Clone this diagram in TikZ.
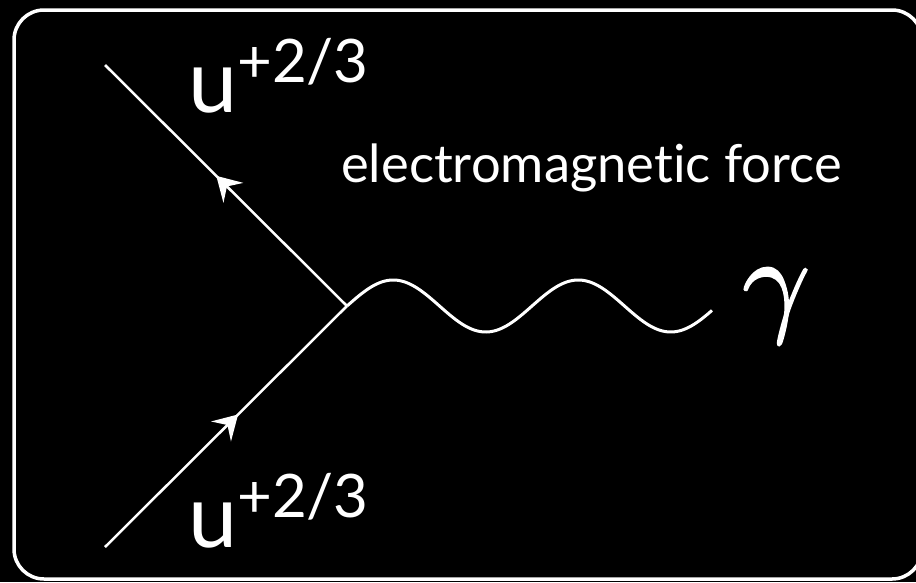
\documentclass[tikz,border=0pt]{standalone}
\usepackage{fontspec}
\setmainfont{Lato}[Ligatures=NoCommon]
\newfontfamily\lmm{latinmodern-math.otf}[FakeBold=1.4]
\usetikzlibrary{arrows.meta,decorations.markings}
\newcommand{\photonsym}{{\lmm\fontsize{119}{119}\selectfont 𝛾}}
\tikzset{
  leg/.style={white, line width=2.5pt, postaction={decorate}},
  midarrow/.style={decoration={markings, mark=at position #1 with {\arrow{Stealth[length=24pt,width=28pt,inset=9pt]}}}},
  quark/.style={anchor=base west, inner sep=0pt, text=white},
  wave/.style={white, line width=3pt},
}
\begin{document}
\begin{tikzpicture}[x=1pt,y=-1pt]
\fill[black] (0,0) rectangle (916,582);
\useasboundingbox (0,0) rectangle (916,582);
\clip (0,0) rectangle (916,582);
\draw[white, line width=3.5pt, rounded corners=30pt] (14,10) rectangle (922,579);
\coordinate (v) at (347,306);
\coordinate (a) at (105,65);
\coordinate (b) at (105,547);
\draw[leg, midarrow=0.54] (v) -- (a);
\draw[leg, midarrow=0.55] (b) -- (v);
\draw[wave, shift={(v)}] plot[domain=0:365, samples=200, smooth] (\x, {-26*sin(\x/185*360)});
\node[quark] (u1) at (188,112) {\fontsize{88}{88}\selectfont u\raisebox{30pt}{\fontsize{60}{60}\selectfont +2/3}};
\node[quark] (u2) at (188,547) {\fontsize{88}{88}\selectfont u\raisebox{30pt}{\fontsize{60}{60}\selectfont +2/3}};
\node[quark] (em) at (341,182) {\fontsize{52.5}{52.5}\selectfont electromagnetic force};
\node[text=white, inner sep=0pt, anchor=base] (g) at (773,320) {\photonsym};
\end{tikzpicture}
\end{document}
